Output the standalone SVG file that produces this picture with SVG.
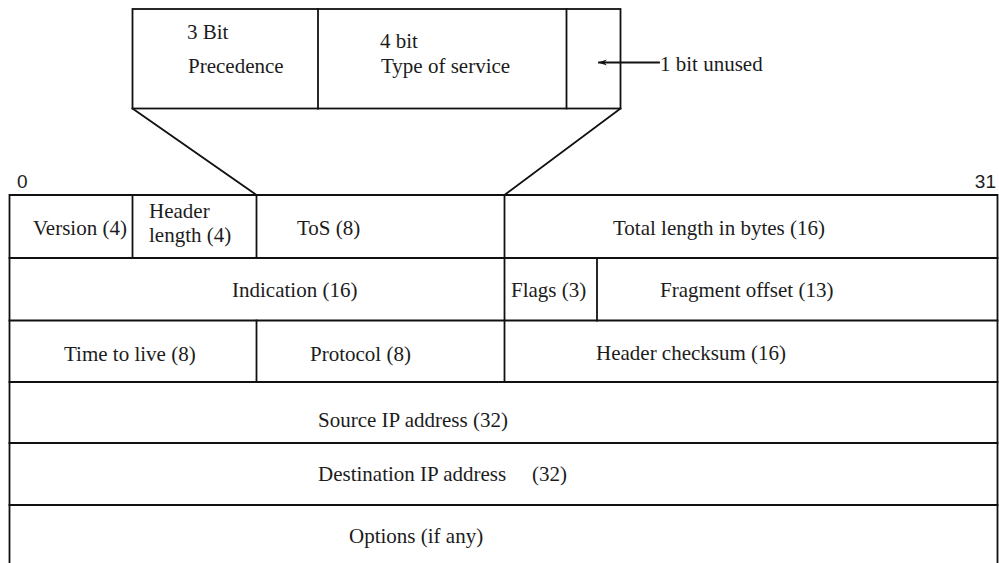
<svg xmlns="http://www.w3.org/2000/svg" width="999" height="563" viewBox="0 0 999 563">
  <style>
    .bg { fill: #ffffff; }
    .ln { fill: none; stroke: #111; stroke-width: 1.8; stroke-linecap: square; }
    .tx { font-family: "Liberation Serif", "Times New Roman", Tinos, serif; font-size: 21px; fill: #1c1c1c; }
    .num { font-family: "Liberation Sans", Arial, sans-serif; font-size: 19px; fill: #1c1c1c; }
  </style>
  <defs>
    <marker id="head" viewBox="0 0 10 8" refX="9" refY="4" markerWidth="14" markerHeight="7" orient="auto" markerUnits="userSpaceOnUse">
      <path d="M0,0.5 L10,4 L0,7.5 L3,4 Z" fill="#111"/>
    </marker>
  </defs>
  <rect class="bg" x="0" y="0" width="999" height="563"/>

  <!-- ToS byte breakdown -->
  <g id="tos-detail">
    <rect class="ln" x="132.5" y="9" width="488" height="99.5"/>
    <g id="precedence">
      <line class="ln" x1="318" y1="9" x2="318" y2="108.5"/>
      <text class="tx" x="187" y="39">3 Bit</text>
      <text class="tx" x="188" y="73">Precedence</text>
    </g>
    <g id="type-of-service">
      <line class="ln" x1="566.5" y1="9" x2="566.5" y2="108.5"/>
      <text class="tx" x="380" y="48">4 bit</text>
      <text class="tx" x="381" y="73">Type of service</text>
    </g>
    <g id="unused-bit">
      <text class="tx" x="660" y="71">1 bit unused</text>
    </g>
  </g>

  <!-- bit scale -->
  <g id="bit-scale">
    <text class="num" x="17" y="188">0</text>
    <text class="num" x="996" y="188" text-anchor="end">31</text>
  </g>

  <!-- header frame -->
  <g id="header-frame">
    <path class="ln" d="M9.5,566 V195 H997.5 V566"/>
    <line class="ln" x1="9.5" y1="258" x2="997.5" y2="258"/>
    <line class="ln" x1="9.5" y1="320.5" x2="997.5" y2="320.5"/>
    <line class="ln" x1="9.5" y1="382" x2="997.5" y2="382"/>
    <line class="ln" x1="9.5" y1="443" x2="997.5" y2="443"/>
    <line class="ln" x1="9.5" y1="505" x2="997.5" y2="505"/>
  </g>

  <!-- row 1 -->
  <g id="version">
    <line class="ln" x1="132.5" y1="195" x2="132.5" y2="258"/>
    <text class="tx" x="33" y="235">Version (4)</text>
  </g>
  <g id="header-length">
    <line class="ln" x1="256.5" y1="195" x2="256.5" y2="258"/>
    <text class="tx" x="149" y="218">Header</text>
    <text class="tx" x="149" y="242">length (4)</text>
  </g>
  <g id="tos">
    <line class="ln" x1="504.5" y1="195" x2="504.5" y2="382"/>
    <text class="tx" x="297" y="235">ToS (8)</text>
  </g>
  <g id="total-length">
    <text class="tx" x="613" y="235">Total length in bytes (16)</text>
  </g>

  <!-- row 2 -->
  <g id="indication">
    <text class="tx" x="232" y="297">Indication (16)</text>
  </g>
  <g id="flags">
    <line class="ln" x1="597" y1="258" x2="597" y2="320.5"/>
    <text class="tx" x="511" y="297">Flags (3)</text>
  </g>
  <g id="fragment-offset">
    <text class="tx" x="660" y="297">Fragment offset (13)</text>
  </g>

  <!-- row 3 -->
  <g id="time-to-live">
    <line class="ln" x1="256.5" y1="320.5" x2="256.5" y2="382"/>
    <text class="tx" x="64" y="361">Time to live (8)</text>
  </g>
  <g id="protocol">
    <text class="tx" x="310" y="361">Protocol (8)</text>
  </g>
  <g id="header-checksum">
    <text class="tx" x="596" y="360">Header checksum (16)</text>
  </g>

  <!-- rows 4 to 6 -->
  <g id="source-ip">
    <text class="tx" x="318" y="427">Source IP address (32)</text>
  </g>
  <g id="destination-ip">
    <text class="tx" x="318" y="481">Destination IP address<tspan x="532">(32)</tspan></text>
  </g>
  <g id="options">
    <text class="tx" x="349" y="543">Options (if any)</text>
  </g>

  <!-- connectors -->
  <g id="connectors">
    <line class="ln" x1="132.5" y1="108.5" x2="256.5" y2="195"/>
    <line class="ln" x1="620.5" y1="108.5" x2="504.5" y2="195"/>
    <line class="ln" x1="659" y1="62.5" x2="599" y2="62.5" stroke-linecap="butt" marker-end="url(#head)"/>
  </g>
</svg>
